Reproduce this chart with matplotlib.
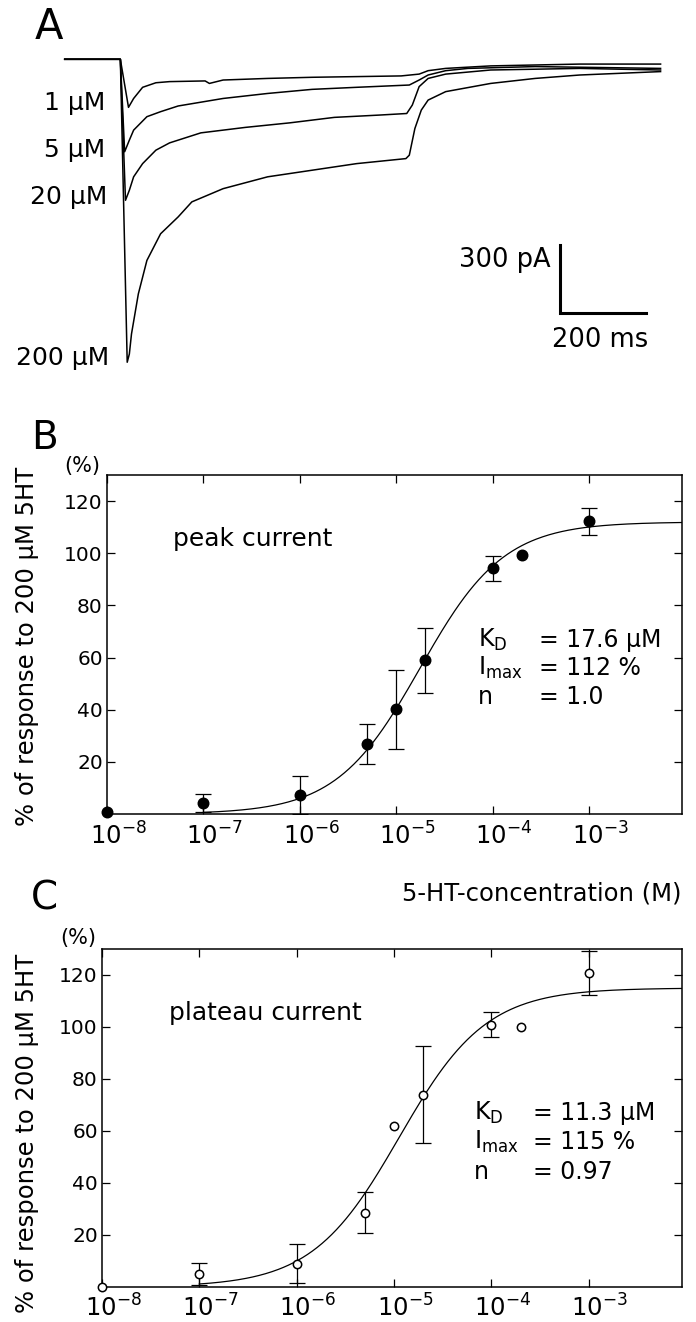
import numpy as np
import matplotlib
matplotlib.use("Agg")
import matplotlib.pyplot as plt
from matplotlib.ticker import NullLocator

W, H = 696, 1322

# panel A: whole-cell currents, time in ms, current in pA
t_1uM = [-130, 0, 19, 31, 52, 83, 115, 198, 208, 240, 344, 448, 552, 656, 698, 719, 760, 865, 969, 1073, 1262]
i_1uM = [0, 0, -211, -172, -123, -103, -98, -95, -106, -91, -84, -79, -76, -73, -65, -50, -40, -29, -25, -21, -21]

t_5uM = [-130, 0, 10, 21, 31, 62, 94, 135, 240, 344, 448, 552, 675, 698, 719, 760, 812, 969, 1262]
i_5uM = [0, 0, -406, -355, -311, -252, -230, -205, -172, -150, -132, -123, -113, -91, -69, -50, -40, -32, -40]

t_20uM = [-130, 0, 12, 21, 31, 52, 83, 115, 188, 292, 396, 500, 604, 669, 682, 698, 719, 760, 865, 1073, 1262]
i_20uM = [0, 0, -619, -575, -516, -458, -399, -367, -323, -299, -279, -255, -245, -238, -201, -120, -84, -65, -47, -40, -47]

t_200uM = [-130, 0, 16, 21, 26, 42, 62, 94, 135, 167, 240, 344, 448, 552, 667, 675, 688, 703, 719, 760, 865, 969, 1073, 1262]
i_200uM = [0, 0, -1330, -1294, -1206, -1030, -883, -766, -692, -626, -568, -516, -487, -458, -436, -421, -304, -223, -179, -142, -106, -84, -69, -54]

trace_labels = ["1 µM", "5 µM", "20 µM", "200 µM"]

# panels B and C: dose-response (% of response to 200 uM 5HT)
conc = [1e-8, 1e-7, 1e-6, 5e-6, 1e-5, 2e-5, 1e-4, 2e-4, 1e-3]
peak_mean = [0.8, 4.3, 7.2, 26.9, 40.2, 58.9, 94.2, 99.2, 112.3]
peak_err = [0, 3.4, 7.2, 7.7, 15.2, 12.4, 4.7, 0, 5.2]
plateau_mean = [0, 5.1, 8.9, 28.6, 62.0, 73.9, 100.9, 99.9, 120.8]
plateau_err = [0, 4.2, 7.5, 7.8, 0, 18.7, 4.8, 0, 8.3]

# Hill fits given in the figure: KD (M), Imax (%), n
peak_fit = (17.6e-6, 112, 1.0)
plateau_fit = (11.3e-6, 115, 0.97)
peak_fit_text = ["= 17.6 µM", "= 112 %", "= 1.0"]
plateau_fit_text = ["= 11.3 µM", "= 115 %", "= 0.97"]

xtick_vals = [1e-8, 1e-7, 1e-6, 1e-5, 1e-4, 1e-3]
xtick_labels = ["$10^{-8}$", "$10^{-7}$", "$10^{-6}$", "$10^{-5}$", "$10^{-4}$", "$10^{-3}$"]
ytick_vals = [20, 40, 60, 80, 100, 120]

plt.rcParams["font.family"] = ["DejaVu Sans"]
plt.rcParams["mathtext.default"] = "regular"

fig = plt.figure(figsize=(W / 100, H / 100), dpi=100)


def px_axes(left, top, right, bottom):
    return fig.add_axes([left / W, 1 - bottom / H, (right - left) / W, (bottom - top) / H])


def ftext(x, y, s, **kw):
    return fig.text(x / W, 1 - y / H, s, **kw)


def hill(c, kd, imax, n):
    r = (c / kd) ** n
    return imax * r / (1 + r)


# ---- panel A
axA = px_axes(60, 20, 670, 380)
for t, i in [(t_1uM, i_1uM), (t_5uM, i_5uM), (t_20uM, i_20uM), (t_200uM, i_200uM)]:
    axA.plot(t, i, color="k", lw=1.1)
axA.set_xlim(-141, 1284)
axA.set_ylim(-1408, 172.5)
axA.axis("off")

# scale bar: 300 pA / 200 ms
axA.plot([1027, 1027, 1227], [-815, -1115, -1115], color="k", lw=2.2, solid_joinstyle="miter")

ftext(35, 27, "A", fontsize=30, va="center", ha="left")
for lbl, x, y in zip(trace_labels, [105, 105, 107, 109], [103, 150, 197, 358]):
    ftext(x, y, lbl, fontsize=18, ha="right", va="center")
ftext(551, 260, "300 pA", fontsize=18.5, ha="right", va="center")
ftext(600, 340, "200 ms", fontsize=18.5, ha="center", va="center")


def dose_panel(ax, mean, err, fit, filled, title, label_pad):
    c = np.logspace(-7, -2.04, 300)
    ax.plot(c, hill(c, *fit), color="k", lw=0.9)
    x = np.array(conc)
    y = np.array(mean)
    e = np.array(err)
    m = e > 0
    ax.errorbar(x[m], y[m], yerr=e[m], fmt="none", ecolor="k", elinewidth=0.9,
                capsize=5.5, capthick=0.9)
    ax.plot(x, y, "o", ms=7.5 if filled else 6, mfc="k" if filled else "white",
            mec="k", mew=1.1, clip_on=False, zorder=4)
    ax.set_xscale("log")
    ax.set_xlim(1e-8, 10 ** -2.04)
    ax.set_ylim(0, 130)
    ax.set_xticks(xtick_vals)
    ax.xaxis.set_minor_locator(NullLocator())
    ax.set_yticks(ytick_vals)
    ax.tick_params(which="both", direction="in", top=True, right=True,
                   length=5.5, width=0.9, labelbottom=False)
    ax.tick_params(axis="y", labelsize=14.5, pad=3)
    for s in ax.spines.values():
        s.set_linewidth(1.1)
    for v, lbl in zip(xtick_vals, xtick_labels):
        ax.annotate(lbl, xy=(v, 0), xycoords=("data", "axes fraction"),
                    xytext=(8, -label_pad), textcoords="offset points",
                    ha="center", va="top", fontsize=17.5)
    ax.text(0.115, 0.81, title, transform=ax.transAxes, fontsize=18, va="center")


# ---- panel B
axB = px_axes(107, 475, 682, 814)
dose_panel(axB, peak_mean, peak_err, peak_fit, True, "peak current", 6)
ftext(44, 438, "B", fontsize=28, ha="center", va="center")
ftext(82, 466, "(%)", fontsize=15, ha="center", va="center")
ftext(27, 646, "% of response to 200 µM 5HT", fontsize=17.5, rotation=90, ha="center", va="center")
for y, name, val in zip([640, 668, 697], ["K$_D$", "I$_{max}$", "n"], peak_fit_text):
    ftext(478, y, name, fontsize=17, ha="left", va="center")
    ftext(539, y, val, fontsize=17, ha="left", va="center")
ftext(682, 893, "5-HT-concentration (M)", fontsize=17.5, ha="right", va="center")

# ---- panel C
axC = px_axes(102, 949, 682, 1287)
dose_panel(axC, plateau_mean, plateau_err, plateau_fit, False, "plateau current", 5)
ftext(44, 898, "C", fontsize=28, ha="center", va="center")
ftext(78, 938, "(%)", fontsize=15, ha="center", va="center")
ftext(27, 1133, "% of response to 200 µM 5HT", fontsize=17.5, rotation=90, ha="center", va="center")
for y, name, val in zip([1113, 1142, 1172], ["K$_D$", "I$_{max}$", "n"], plateau_fit_text):
    ftext(474, y, name, fontsize=17, ha="left", va="center")
    ftext(533, y, val, fontsize=17, ha="left", va="center")

fig.savefig("out.png", dpi=100)
